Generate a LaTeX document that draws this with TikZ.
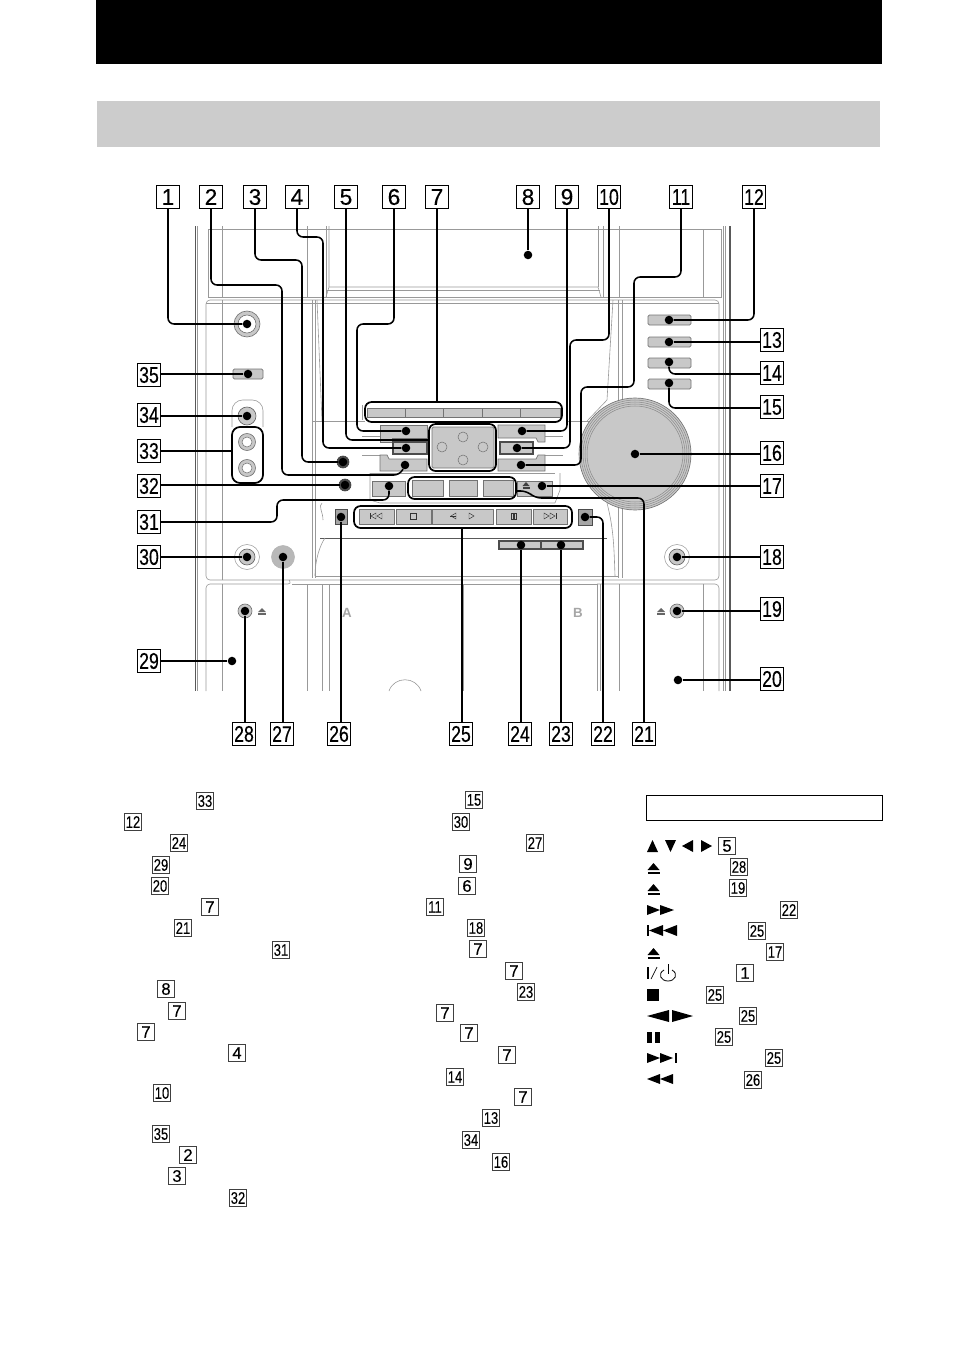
\documentclass[tikz,border=0pt]{standalone}
\usepackage{fontspec}
\setmainfont{Liberation Sans}
\newfontfamily\numfont[FakeBold=0.35]{Liberation Sans}
\usetikzlibrary{calc}
\definecolor{btngray}{HTML}{C8C8C8}
\definecolor{bandgray}{HTML}{CCCCCC}
\def\two#1{\scalebox{0.78}[1]{#1}}
\def\ejectmark[#1](#2,#3){\fill[#1] (#2-6,#3+2) -- (#2,#3-5) -- (#2+6,#3+2) -- cycle; \fill[#1] (#2-6,#3+4) rectangle (#2+6,#3+6);}
\def\ejectsmall[#1](#2,#3){\fill[#1] (#2-4,#3+1) -- (#2,#3-3) -- (#2+4,#3+1) -- cycle; \fill[#1] (#2-4,#3+2) rectangle (#2+4,#3+3.5);}
\tikzset{
	numbox/.style={draw=black, fill=white, line width=0.7pt, inner sep=0pt, minimum width=17pt, minimum height=17pt, font=\numfont\fontsize{17}{17}\selectfont},
	listbox/.style={draw=black!75, fill=white, line width=0.6pt, inner sep=0pt, minimum width=12.6pt, minimum height=12.6pt, font=\numfont\fontsize{12.5}{13}\selectfont},
	dot/.style={circle, fill=black, inner sep=0pt, minimum size=6.4pt},
	leader/.style={line width=1.15pt, rounded corners=4.5pt},
	hull/.style={line width=1.3pt, rounded corners=5pt, draw=black},
	devline/.style={draw=black!40, line width=0.45pt},
	devdark/.style={draw=black!65, line width=0.6pt},
	btn/.style={draw=black!55, fill=btngray, line width=0.5pt},
	btndark/.style={draw=black!70, fill=btngray, line width=1pt},
	tiny/.style={draw=black!80, line width=0.35pt}
}
\begin{document}
\begin{tikzpicture}[x=0.75pt, y=-0.75pt]
		%%%%% START %%%%%
		\useasboundingbox (0, 0) rectangle (954, 1352);
		
		\fill[black] (96, 0) rectangle (882, 64);
		\fill[bandgray] (97, 101) rectangle (880, 147);
		
		% cabinet
		\draw[devdark] (195, 226) -- (195, 691);
		\draw[devline] (197.5, 226) -- (197.5, 691);
		\draw[devdark, line width=0.9pt] (730, 226) -- (730, 691);
		\draw[devline] (723, 226) -- (723, 691);
		\draw[devline] (725.5, 226) -- (725.5, 691);
		\draw[devline] (208, 229) -- (721, 229) -- (721, 297) -- (208, 297) -- cycle;
		\draw[devline] (222, 226) -- (222, 297);
		\draw[devline] (307, 226) -- (307, 297);
		\draw[devline] (619, 226) -- (619, 297);
		\draw[devline] (703, 229) -- (703, 297);
		\draw[devline] (329, 226) -- (329, 287) -- (326, 297);
		\draw[devline] (326, 226) -- (326, 297);
		\draw[devline] (329, 287) -- (598, 287) -- (601, 297);
		\draw[devline] (598, 226) -- (598, 287);
		\draw[devline] (603, 226) -- (603, 297);
		\draw[devline] (327, 290) -- (600, 290);
		
		\draw[devline, rounded corners=3pt] (206, 580) -- (206, 300) -- (719, 300) -- (719, 580) -- cycle;
		\draw[devline] (222, 300) -- (222, 580);
		\draw[devline] (312, 300) -- (312, 578);
		\draw[devline] (315, 300) -- (315, 578);
		\draw[devline] (618, 300) -- (618, 578);
		\draw[devline] (622, 300) -- (622, 578);
		\draw[devline] (317, 300) -- (322, 421);
		\draw[devline] (613, 300) -- (607, 400) -- (587, 421);
		\draw[devline] (312, 421) -- (365, 421);
		\draw[devline] (566, 421) -- (590, 421);
		\draw[devline] (206, 303) -- (719, 303);
		
		\draw[devline, rounded corners=3pt] (206, 691) -- (206, 584) -- (292, 584) -- (289, 580);
		\draw[devline] (292, 584) -- (597, 584);
		\draw[devline, rounded corners=3pt] (597, 584) -- (719, 584) -- (719, 691);
		\draw[devline] (222, 584) -- (222, 691);
		\draw[devline] (307, 584) -- (307, 691);
		\draw[devline] (322, 584) -- (322, 691);
		\draw[devline] (329, 584) -- (329, 691);
		\draw[devline] (597, 584) -- (597, 691);
		\draw[devline] (600, 584) -- (600, 691);
		\draw[devline] (619, 584) -- (619, 691);
		\draw[devline] (703, 584) -- (703, 691);
		\draw[devline] (463, 584) -- (463, 691);
		\draw[devline] (389, 691) .. controls (394, 676) and (416, 676) .. (421, 691);
		
		% transport well
		\draw[devdark, line width=0.5pt] (320, 538) -- (607, 538);
		\draw[devline] (315, 576) -- (618, 576);
		\draw[devline] (315, 576) .. controls (315, 560) and (320, 545) .. (325, 538);
		\draw[devline] (607, 503) .. controls (614, 530) and (614, 550) .. (615, 576);
		\draw[devline] (322, 503) .. controls (318, 506) and (323, 512) .. (323, 520);
		
		% centre panel
		\draw[devline] (362, 405) -- (362, 420);
		\draw[devline] (370, 473) -- (370, 500) -- (380, 503) -- (555, 503) -- (560, 490) -- (560, 473);
		\draw[devline] (362, 436) -- (380, 436);
		\draw[devline] (362, 455) -- (380, 455);
		\draw[devline] (545, 436) -- (563, 436);
		\draw[devline] (545, 455) -- (563, 455);
		\draw[devline] (370, 473) -- (555, 473);
		
		% buttons on the right and the knob
		\draw[btn, rounded corners=1pt] (648, 315) rectangle (691, 325);
		\draw[btn, rounded corners=1pt] (648, 337) rectangle (691, 347);
		\draw[btn, rounded corners=1pt] (648, 358) rectangle (691, 368);
		\draw[btn, rounded corners=1pt] (648, 379) rectangle (691, 389);
		\draw[black!55, fill=btngray, line width=0.5pt] (635, 454) circle (56);
		\draw[black!45, line width=0.4pt] (635, 454) circle (54);
		\draw[black!45, line width=0.4pt] (635, 454) circle (52);
		\draw[black!45, line width=0.4pt] (635, 454) circle (50);
		\draw[black!45, line width=0.4pt] (635, 454) circle (48);
		
		% jacks on the left
		\draw[black!55, fill=btngray, line width=0.5pt] (247, 324) circle (13);
		\draw[black!60, fill=white, line width=0.4pt] (247, 324) circle (9);
		\draw[btn, rounded corners=1pt] (233, 369) rectangle (263, 379);
		\draw[devline, rounded corners=8pt] (232, 427) -- (232, 400) -- (263, 400) -- (263, 427);
		\draw[black!60, fill=btngray, line width=0.5pt] (247, 416) circle (9);
		\draw[black!55, fill=btngray, line width=0.5pt] (247, 442) circle (8.5);
		\draw[black!55, fill=white, line width=0.4pt] (247, 442) circle (5);
		\draw[black!55, fill=btngray, line width=0.5pt] (247, 468) circle (8.5);
		\draw[black!55, fill=white, line width=0.4pt] (247, 468) circle (5);
		\draw[black!40, line width=0.4pt] (247, 557) circle (12.5);
		\draw[black!60, fill=btngray, line width=0.5pt] (247, 557) circle (8);
		\draw[black!30, fill=black!28, line width=0.4pt] (283, 557) circle (11.5);
		\draw[black!55, fill=btngray, line width=0.5pt] (245, 611) circle (7);
		\draw[black!55, fill=btngray, line width=0.5pt] (677, 611) circle (7);
		\draw[black!40, line width=0.4pt] (677, 557) circle (12.5);
		\draw[black!60, fill=btngray, line width=0.5pt] (677, 557) circle (8);
		\ejectsmall[black!60](262, 611)
		\ejectsmall[black!60](661, 611)
		\node[text=black!35, font=\fontsize{10}{10}\selectfont\bfseries] (deckA) at (347, 613) {A};
		\node[text=black!35, font=\fontsize{10}{10}\selectfont\bfseries] (deckB) at (578, 613) {B};
		
		% strip of keys
		\draw[btn] (367, 408) rectangle (405, 417);
		\draw[btn] (405, 408) rectangle (443, 417);
		\draw[btn] (443, 408) rectangle (482, 417);
		\draw[btn] (482, 408) rectangle (520, 417);
		\draw[btn] (520, 408) rectangle (560, 417);
		
		% keys round the pad
		\draw[btn] (380, 425) -- (427, 425) -- (427, 438) -- (392, 438) -- (392, 442) -- (380, 442) -- cycle;
		\draw[btndark] (393, 442) rectangle (427, 454);
		\draw[btn] (380, 455) -- (387, 455) -- (389, 459) -- (427, 459) -- (427, 471) -- (380, 471) -- cycle;
		\draw[btn] (498, 425) -- (545, 425) -- (545, 442) -- (538, 442) -- (536, 438) -- (498, 438) -- cycle;
		\draw[btndark] (500, 442) rectangle (533, 454);
		\draw[btn] (498, 459) -- (536, 459) -- (538, 455) -- (545, 455) -- (545, 471) -- (498, 471) -- cycle;
		\draw[btn, rounded corners=1pt] (432, 427) rectangle (494, 468);
		\draw[black!55, line width=0.4pt] (463, 437) circle (5);
		\draw[black!55, line width=0.4pt] (442, 447) circle (5);
		\draw[black!55, line width=0.4pt] (483, 447) circle (5);
		\draw[black!55, line width=0.4pt] (463, 460) circle (5);
		\draw[black!75, fill=black!70, line width=0.5pt] (343, 462) circle (6);
		\draw[black!75, fill=black!70, line width=0.5pt] (345, 485) circle (6);
		
		% second row
		\draw[btn] (372, 481) rectangle (405, 496);
		\draw[btn] (412, 480) rectangle (443, 496);
		\draw[btn] (449, 480) rectangle (477, 496);
		\draw[btn] (483, 480) rectangle (513, 496);
		\draw[btn] (517, 481) rectangle (552, 496);
		\fill[black!75] (522.5, 486) -- (526, 482) -- (529.5, 486) -- cycle;
		\fill[black!75] (522.5, 487) rectangle (529.5, 488.5);
		
		% transport keys
		\draw[btn] (359, 509) rectangle (394, 524);
		\draw[btn] (396, 509) rectangle (431, 524);
		\draw[btn] (432, 509) rectangle (493, 524);
		\draw[btn] (496, 509) rectangle (531, 524);
		\draw[btn] (533, 509) rectangle (567, 524);
		\draw[tiny] (370, 513) -- (370, 519);
		\draw[tiny] (376, 513) -- (371, 516) -- (376, 519) -- cycle;
		\draw[tiny] (382, 513) -- (377, 516) -- (382, 519) -- cycle;
		\draw[tiny] (410.5, 513.5) rectangle (416, 519);
		\draw[tiny] (456, 513) -- (451, 516) -- (456, 519) -- cycle;
		\draw[tiny] (456, 516) -- (450, 516);
		\draw[tiny] (469, 513) -- (474, 516) -- (469, 519) -- cycle;
		\draw[tiny] (511, 513.5) rectangle (513, 519);
		\draw[tiny] (514, 513.5) rectangle (516, 519);
		\draw[tiny] (544, 513) -- (549, 516) -- (544, 519) -- cycle;
		\draw[tiny] (550, 513) -- (555, 516) -- (550, 519) -- cycle;
		\draw[tiny] (556, 513) -- (556, 519);
		\draw[black!70, fill=black!35, line width=0.7pt] (335, 509) rectangle (347, 524);
		\draw[black!70, fill=black!35, line width=0.7pt] (578, 509) rectangle (592, 525);
		\draw[btndark, line width=0.8pt] (499, 541) rectangle (541, 549);
		\draw[btndark, line width=0.8pt] (541, 541) rectangle (583, 549);
		
		% numbers round the unit
		\node[numbox] (n1) at (168, 197) {1};
		\node[numbox] (n2) at (211, 197) {2};
		\node[numbox] (n3) at (255, 197) {3};
		\node[numbox] (n4) at (297, 197) {4};
		\node[numbox] (n5) at (346, 197) {5};
		\node[numbox] (n6) at (394, 197) {6};
		\node[numbox] (n7) at (437, 197) {7};
		\node[numbox] (n8) at (528, 197) {8};
		\node[numbox] (n9) at (567, 197) {9};
		\node[numbox] (n10) at (609, 197) {\two{10}};
		\node[numbox] (n11) at (681, 197) {\two{11}};
		\node[numbox] (n12) at (754, 197) {\two{12}};
		\node[numbox] (n13) at (772, 340) {\two{13}};
		\node[numbox] (n14) at (772, 373) {\two{14}};
		\node[numbox] (n15) at (772, 407) {\two{15}};
		\node[numbox] (n16) at (772, 453) {\two{16}};
		\node[numbox] (n17) at (772, 486) {\two{17}};
		\node[numbox] (n18) at (772, 557) {\two{18}};
		\node[numbox] (n19) at (772, 609) {\two{19}};
		\node[numbox] (n20) at (772, 679) {\two{20}};
		\node[numbox] (n21) at (644, 734) {\two{21}};
		\node[numbox] (n22) at (603, 734) {\two{22}};
		\node[numbox] (n23) at (561, 734) {\two{23}};
		\node[numbox] (n24) at (520, 734) {\two{24}};
		\node[numbox] (n25) at (461, 734) {\two{25}};
		\node[numbox] (n26) at (339, 734) {\two{26}};
		\node[numbox] (n27) at (282, 734) {\two{27}};
		\node[numbox] (n28) at (244, 734) {\two{28}};
		\node[numbox] (n29) at (149, 661) {\two{29}};
		\node[numbox] (n30) at (149, 557) {\two{30}};
		\node[numbox] (n31) at (149, 522) {\two{31}};
		\node[numbox] (n32) at (149, 486) {\two{32}};
		\node[numbox] (n33) at (149, 451) {\two{33}};
		\node[numbox] (n34) at (149, 415) {\two{34}};
		\node[numbox] (n35) at (149, 375) {\two{35}};
		
		% spots on the unit
		\node[dot] (d1) at (247, 324) {};
		\node[dot] (d2) at (405, 465) {};
		\node[dot] (d3) at (343, 462) {};
		\node[dot] (d4) at (406, 448) {};
		\node[dot] (d6) at (406, 431) {};
		\node[dot] (d8) at (528, 255) {};
		\node[dot] (d9) at (522, 431) {};
		\node[dot] (d10) at (517, 448) {};
		\node[dot] (d11) at (521, 465) {};
		\node[dot] (d12) at (669, 320) {};
		\node[dot] (d13) at (669, 342) {};
		\node[dot] (d14) at (669, 362) {};
		\node[dot] (d15) at (669, 383) {};
		\node[dot] (d16) at (635, 454) {};
		\node[dot] (d17) at (542, 486) {};
		\node[dot] (d18) at (677, 557) {};
		\node[dot] (d19) at (677, 611) {};
		\node[dot] (d20) at (678, 680) {};
		\node[dot] (d22) at (585, 517) {};
		\node[dot] (d23) at (561, 545) {};
		\node[dot] (d24) at (521, 545) {};
		\node[dot] (d26) at (341, 517) {};
		\node[dot] (d27) at (283, 557) {};
		\node[dot] (d28) at (245, 611) {};
		\node[dot] (d29) at (232, 661) {};
		\node[dot] (d30) at (247, 557) {};
		\node[dot] (d31) at (389, 486) {};
		\node[dot] (d32) at (345, 485) {};
		\node[dot] (d34) at (247, 416) {};
		\node[dot] (d35) at (248, 374) {};
		
		% black outlines that group keys
		\draw[hull] (365, 402) rectangle (562, 422);
		\draw[hull] (429, 424) rectangle (496, 471);
		\draw[hull] (408, 477) rectangle (516, 499);
		\draw[hull] (354, 506) rectangle (572, 528);
		\draw[hull, rounded corners=6pt] (232, 427) rectangle (263, 483);
		\coordinate (strip7) at (437, 402);
		\coordinate (pad5) at (429, 440);
		\coordinate (row21) at (516, 491);
		\coordinate (trans25) at (462, 528);
		\coordinate (jack33) at (232, 451);
		
		% leaders
		\draw[leader] (n1.south) -- (n1.south |- d1) -- (d1);
		\draw[leader] (n2.south) -- (211, 285) -- (282, 285) -- (282, 475) -- (400, 475) -- (d2);
		\draw[leader] (n3.south) -- (255, 260) -- (302, 260) -- (302, 462) -- (d3);
		\draw[leader] (n4.south) -- (297, 237) -- (323, 237) -- (323, 448) -- (d4);
		\draw[leader] (n5.south) -- (346, 440) -- (pad5);
		\draw[leader] (n6.south) -- (394, 324) -- (357, 324) -- (357, 431) -- (d6);
		\draw[leader] (n7.south) -- (strip7);
		\draw[leader] (n8.south) -- (d8);
		\draw[leader] (n9.south) -- (567, 431) -- (d9);
		\draw[leader] (n10.south) -- (609, 340) -- (570, 340) -- (570, 448) -- (d10);
		\draw[leader] (n11.south) -- (681, 277) -- (634, 277) -- (634, 387) -- (581, 387) -- (581, 465) -- (d11);
		\draw[leader] (n12.south) -- (754, 320) -- (d12);
		\draw[leader] (d13) -- (n13.west |- d13);
		\draw[leader] (d14) -- (669, 374) -- (n14.west |- 0, 374);
		\draw[leader] (d15) -- (669, 408) -- (n15.west |- 0, 408);
		\draw[leader] (d16) -- (n16.west |- d16);
		\draw[leader] (d17) -- (n17.west |- d17);
		\draw[leader] (d18) -- (n18.west |- d18);
		\draw[leader] (d19) -- (n19.west |- d19);
		\draw[leader] (d20) -- (n20.west |- d20);
		\draw[leader] (n21.north) -- (644, 498) -- (535, 498) -- (527, 491) -- (row21);
		\draw[leader] (n22.north) -- (603, 517) -- (d22);
		\draw[leader] (n23.north) -- (d23);
		\draw[leader] (d24) -- (d24 |- n24.north);
		\draw[leader] (trans25) -- (trans25 |- n25.north);
		\draw[leader] (d26) -- (d26 |- n26.north);
		\draw[leader] (d27) -- (d27 |- n27.north);
		\draw[leader] (d28) -- (d28 |- n28.north);
		\draw[leader] (n29.east) -- (d29);
		\draw[leader] (n30.east) -- (d30);
		\draw[leader] (n31.east) -- (277, 522) -- (277, 500) -- (389, 500) -- (d31);
		\draw[leader] (n32.east |- d32) -- (d32);
		\draw[leader] (n33.east) -- (jack33);
		\draw[leader] (n34.east |- d34) -- (d34);
		\draw[leader] (n35.east |- d35) -- (d35);
		
		% index, first column
		\node[listbox] (a33) at (205, 801) {\two{33}};
		\node[listbox] (a12) at (133, 822) {\two{12}};
		\node[listbox] (a24) at (179, 843) {\two{24}};
		\node[listbox] (a29) at (161, 865) {\two{29}};
		\node[listbox] (a20) at (160, 886) {\two{20}};
		\node[listbox] (a7) at (210, 907) {7};
		\node[listbox] (a21) at (183, 928) {\two{21}};
		\node[listbox] (a31) at (281, 950) {\two{31}};
		\node[listbox] (a8) at (166, 989) {8};
		\node[listbox] (a7b) at (177, 1011) {7};
		\node[listbox] (a7c) at (146, 1032) {7};
		\node[listbox] (a4) at (237, 1053) {4};
		\node[listbox] (a10) at (162, 1093) {\two{10}};
		\node[listbox] (a35) at (161, 1134) {\two{35}};
		\node[listbox] (a2) at (188, 1155) {2};
		\node[listbox] (a3) at (177, 1176) {3};
		\node[listbox] (a32) at (238, 1198) {\two{32}};
		
		% index, second column
		\node[listbox] (b15) at (474, 800) {\two{15}};
		\node[listbox] (b30) at (461, 822) {\two{30}};
		\node[listbox] (b27) at (535, 843) {\two{27}};
		\node[listbox] (b9) at (468, 864) {9};
		\node[listbox] (b6) at (467, 886) {6};
		\node[listbox] (b11) at (435, 907) {\two{11}};
		\node[listbox] (b18) at (476, 928) {\two{18}};
		\node[listbox] (b7) at (478, 949) {7};
		\node[listbox] (b7b) at (514, 971) {7};
		\node[listbox] (b23) at (526, 992) {\two{23}};
		\node[listbox] (b7c) at (445, 1013) {7};
		\node[listbox] (b7d) at (469, 1033) {7};
		\node[listbox] (b7e) at (507, 1055) {7};
		\node[listbox] (b14) at (455, 1077) {\two{14}};
		\node[listbox] (b7f) at (523, 1097) {7};
		\node[listbox] (b13) at (491, 1118) {\two{13}};
		\node[listbox] (b34) at (471, 1140) {\two{34}};
		\node[listbox] (b16) at (501, 1162) {\two{16}};
		
		% index, third column
		\draw[line width=0.75pt] (646.5, 795) rectangle (882.5, 820);
		\node[listbox] (c5) at (727, 846) {5};
		\node[listbox] (c28) at (739, 867) {\two{28}};
		\node[listbox] (c19) at (738, 888) {\two{19}};
		\node[listbox] (c22) at (789, 910) {\two{22}};
		\node[listbox] (c25) at (757, 931) {\two{25}};
		\node[listbox] (c17) at (775, 952) {\two{17}};
		\node[listbox] (c1) at (745, 973) {1};
		\node[listbox] (c25b) at (715, 995) {\two{25}};
		\node[listbox] (c25c) at (748, 1016) {\two{25}};
		\node[listbox] (c25d) at (724, 1037) {\two{25}};
		\node[listbox] (c25e) at (774, 1058) {\two{25}};
		\node[listbox] (c26) at (753, 1080) {\two{26}};
		
		% solid marks of the third column
		\fill[black] (647, 852) -- (652.5, 840) -- (658, 852) -- cycle;
		\fill[black] (665, 840) -- (670.5, 852) -- (676, 840) -- cycle;
		\fill[black] (693, 840) -- (682, 846) -- (693, 852) -- cycle;
		\fill[black] (701, 840) -- (712, 846) -- (701, 852) -- cycle;
		\ejectmark[black](653.5, 868)
		\ejectmark[black](653.5, 889)
		\ejectmark[black](653.5, 953)
		\fill[black] (647, 905) -- (660, 910) -- (647, 915) -- cycle;
		\fill[black] (660, 905) -- (674, 910) -- (660, 915) -- cycle;
		\fill[black] (647, 925) rectangle (649, 936);
		\fill[black] (663, 925) -- (649, 930.5) -- (663, 936) -- cycle;
		\fill[black] (677, 925) -- (663, 930.5) -- (677, 936) -- cycle;
		\fill[black] (647, 967) rectangle (649, 979);
		\draw[line width=0.5pt] (651, 979) -- (657, 967);
		\draw[line width=0.6pt] (664, 970) .. controls (657, 974) and (661, 981) .. (668, 981) .. controls (675, 981) and (679, 974) .. (672, 970);
		\draw[line width=0.6pt] (668, 964) -- (668, 974);
		\fill[black] (647, 989) rectangle (659, 1001);
		\fill[black] (669, 1010) -- (647, 1016) -- (669, 1022) -- cycle;
		\fill[black] (672, 1010) -- (693, 1016) -- (672, 1022) -- cycle;
		\fill[black] (647, 1032) rectangle (652, 1043);
		\fill[black] (655, 1032) rectangle (660, 1043);
		\fill[black] (647, 1053) -- (660, 1058) -- (647, 1063) -- cycle;
		\fill[black] (660, 1053) -- (673, 1058) -- (660, 1063) -- cycle;
		\fill[black] (674.5, 1053) rectangle (677, 1063);
		\fill[black] (660, 1074) -- (647, 1079) -- (660, 1084) -- cycle;
		\fill[black] (673, 1074) -- (660, 1079) -- (673, 1084) -- cycle;
		
		%%%%% END %%%%%
	\end{tikzpicture}
\end{document}
